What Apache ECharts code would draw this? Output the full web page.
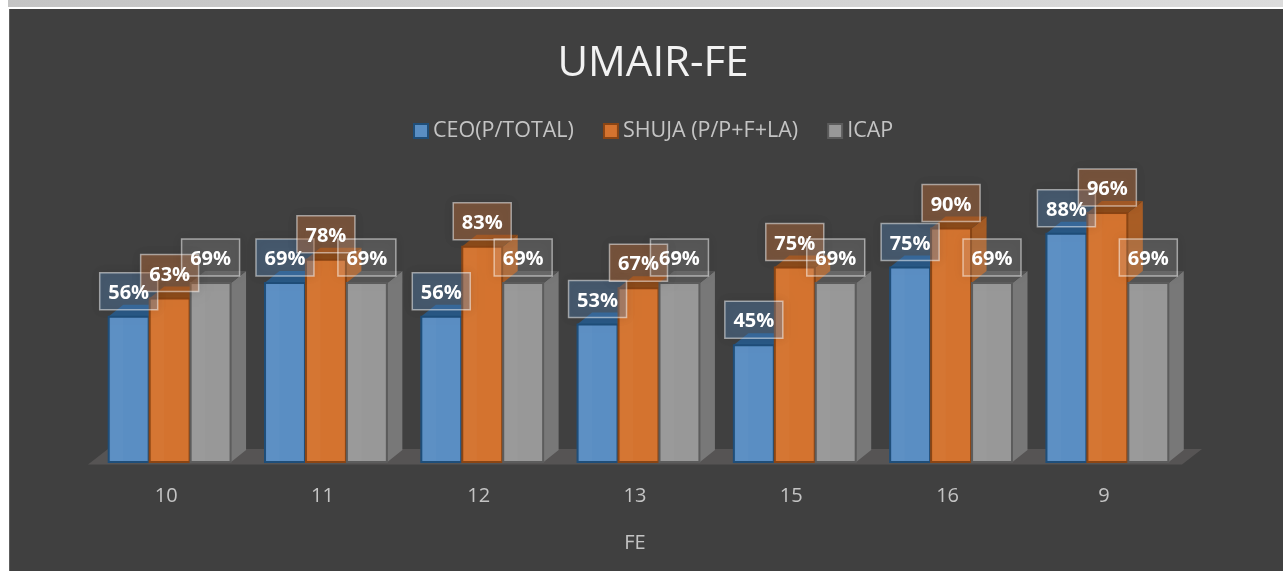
<!DOCTYPE html>
<html>
<head>
<meta charset="utf-8">
<style>
html, body { margin: 0; padding: 0; background: #fff; }
#main { width: 1283px; height: 571px; }
</style>
<script src="https://cdn.jsdelivr.net/npm/echarts@6/dist/echarts.min.js"></script>
</head>
<body>
<div id="main"></div>
<script>
var categories = ['10', '11', '12', '13', '15', '16', '9'];
var ceoValues = [56, 69, 56, 53, 45, 75, 88];
var shujaValues = [63, 78, 83, 67, 75, 90, 96];
var icapValues = [69, 69, 69, 69, 69, 69, 69];

var chart = echarts.init(document.getElementById('main'));

// colours of each bar series
var palettes = [
    { front: '#5a8ec3', edge: '#1f4e79', top: '#2a5a88', side: '#3f6f9f', box: 'rgba(91,150,210,0.32)' },
    { front: '#d4732f', edge: '#8a4514', top: '#8f4c1b', side: '#a95d25', box: 'rgba(214,120,60,0.38)' },
    { front: '#989898', edge: '#5c5c5c', top: '#555555', side: '#787878', box: 'rgba(255,255,255,0.13)' }
];

function bar3d(seriesIndex) {
    var pal = palettes[seriesIndex];
    return function (params, api) {
        var band = api.size([1, 0])[0];
        var w = band * 0.262;
        var dx = 15, dy = 12;
        var base = api.coord([api.value(0), 0]);
        var top = api.coord([api.value(0), api.value(1)]);
        var x = base[0] + 3.5 + (seriesIndex - 1.5) * w;
        var y = top[1];
        var h = base[1] - y;
        return {
            type: 'group',
            children: [
                { type: 'polygon', shape: { points: [[x + w, y], [x + w + dx, y - dy], [x + w + dx, y + h - dy], [x + w, y + h]] },
                  style: { fill: pal.side } },
                { type: 'polygon', shape: { points: [[x, y], [x + dx, y - dy], [x + w + dx, y - dy], [x + w, y]] },
                  style: { fill: pal.top } },
                { type: 'rect', shape: { x: x + 0.5, y: y, width: w - 1, height: h },
                  style: { fill: pal.front, stroke: pal.edge, lineWidth: 2 } },
                { type: 'rect', shape: { x: x + 2, y: y + 1, width: w * 0.32, height: h - 2 },
                  style: { fill: 'rgba(255,255,255,0.025)' } },
                { type: 'rect', z2: 20 + seriesIndex, shape: { x: x + w / 2 - 29, y: y - 44, width: 58, height: 37 },
                  style: { fill: pal.box, stroke: 'rgba(255,255,255,0.5)', lineWidth: 1.5,
                           shadowBlur: 10, shadowColor: 'rgba(0,0,0,0.25)' } },
                { type: 'text', z2: 30 + seriesIndex, x: x + w / 2, y: y - 23.5,
                  style: { text: api.value(1) + '%', fill: '#ffffff', align: 'center', verticalAlign: 'middle',
                           font: 'bold 20px "Open Sans"' } }
            ]
        };
    };
}

function makeSeries(name, values, idx) {
    return {
        name: name,
        type: 'custom',
        renderItem: bar3d(idx),
        encode: { x: 0, y: 1 },
        itemStyle: { color: palettes[idx].front, borderColor: palettes[idx].edge, borderWidth: 2 },
        data: values.map(function (v, i) { return [i, v]; }),
        z: 3
    };
}

var option = {
    backgroundColor: '#ffffff',
    animation: false,
    textStyle: { fontFamily: 'Open Sans' },
    graphic: [
        { type: 'rect', z: -10, shape: { x: 8, y: 0, width: 1275, height: 7 },
          style: { fill: new echarts.graphic.LinearGradient(0, 0, 1, 0, [
              { offset: 0, color: '#c4c4c4' }, { offset: 1, color: '#dcdcdc' }]) } },
        { type: 'rect', z: -10, shape: { x: 9, y: 9, width: 1274, height: 562 }, style: { fill: '#404040' } },
        { type: 'rect', z: -10, shape: { x: 9, y: 9, width: 1, height: 562 }, style: { fill: '#5e5e5e' } }
    ],
    title: {
        text: 'UMAIR-FE',
        left: 648,
        top: 38,
        textAlign: 'center',
        textStyle: { color: '#f2f2f2', fontSize: 42, fontWeight: 'normal', fontFamily: 'Open Sans' }
    },
    legend: {
        left: 408,
        top: 115,
        icon: 'rect',
        itemWidth: 14,
        itemHeight: 14,
        itemGap: 29,
        textStyle: { color: '#c4c4c4', fontSize: 21.5, padding: [0, 0, 0, 0] },
        data: ['CEO(P/TOTAL)', 'SHUJA (P/P+F+LA)', 'ICAP']
    },
    grid: { left: 88, width: 1094, top: 202.6, height: 259.4 },
    xAxis: {
        type: 'category',
        data: categories,
        name: 'FE',
        nameLocation: 'middle',
        nameGap: 71,
        nameTextStyle: { color: '#c4c4c4', fontSize: 20 },
        axisLine: { show: false },
        axisTick: { show: false },
        axisLabel: { color: '#c4c4c4', fontSize: 20, margin: 24 }
    },
    yAxis: { type: 'value', min: 0, max: 100, show: false },
    series: [
        {
            // floor under the bars
            type: 'custom',
            silent: true,
            z: 1,
            encode: { x: 0, y: 1 },
            data: [[0, 0]],
            renderItem: function (params, api) {
                var g = params.coordSys;
                var y = g.y + g.height;
                return { type: 'polygon',
                    shape: { points: [[g.x, y + 2.5], [g.x + 20, y - 13], [g.x + g.width + 20, y - 13], [g.x + g.width, y + 2.5]] },
                    style: { fill: '#565454' } };
            }
        },
        makeSeries('CEO(P/TOTAL)', ceoValues, 0),
        makeSeries('SHUJA (P/P+F+LA)', shujaValues, 1),
        makeSeries('ICAP', icapValues, 2)
    ]
};

chart.setOption(option);
</script>
</body>
</html>
